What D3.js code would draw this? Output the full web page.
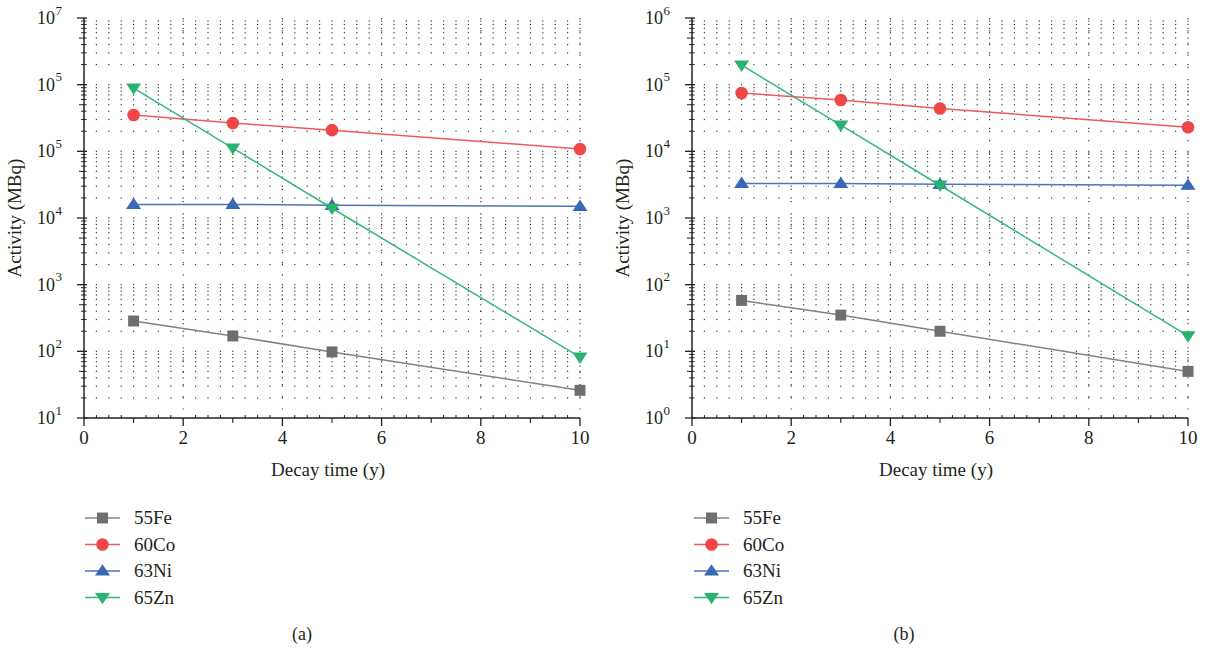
<!DOCTYPE html>
<html>
<head>
<meta charset="utf-8">
<script src="https://cdn.jsdelivr.net/npm/d3@7"></script>
<style>
  body { margin: 0; background: #fff; }
  svg text { fill: #231f20; }
</style>
</head>
<body>
<svg id="chart" width="1205" height="652" font-family="'Liberation Serif', 'Times New Roman', 'DejaVu Serif', serif"></svg>
<script>
const years = [1, 3, 5, 10];
const seriesNames = ["55Fe", "60Co", "63Ni", "65Zn"];
const xTicks = [0, 2, 4, 6, 8, 10];

// panel (a)
const aFe = [285, 170, 98, 26];
const aCo = [350000, 265000, 208000, 108000];
const aNi = [16000, 16000, 15500, 15000];
const aZn = [890000, 112000, 14000, 82];
const aExp = [7, 5, 5, 4, 3, 2, 1]; // labels as printed, top to bottom

// panel (b)
const bFe = [58, 35, 20, 5];
const bCo = [75000, 59000, 44000, 23000];
const bNi = [3300, 3300, 3200, 3100];
const bZn = [196000, 24700, 3100, 17];
const bExp = [6, 5, 4, 3, 2, 1, 0];

const colors = { "55Fe": "#6d6e71", "60Co": "#ef4747", "63Ni": "#3a68b4", "65Zn": "#2ab271" };
const lineColors = { "55Fe": "#808285", "60Co": "#f05a5a", "63Ni": "#4a76bd", "65Zn": "#35b97a" };
const shapes = { "55Fe": d3.symbolSquare, "60Co": d3.symbolCircle, "63Ni": "up", "65Zn": "down" };

const svg = d3.select("#chart");

function marker(g, name, x, y) {
  const s = shapes[name];
  if (s === "up" || s === "down") {
    const h = 11, w = 7.5, dir = s === "up" ? -1 : 1;
    g.append("path")
      .attr("d", `M${x},${y + dir * h * 0.62}L${x - w},${y - dir * h * 0.42}L${x + w},${y - dir * h * 0.42}Z`)
      .attr("fill", colors[name]);
  } else {
    g.append("path")
      .attr("transform", `translate(${x},${y})`)
      .attr("d", d3.symbol().type(s).size(s === d3.symbolSquare ? 120 : 125)())
      .attr("fill", colors[name]);
  }
}

function drawPanel(opt) {
  const x = d3.scaleLinear().domain([0, 10]).range([opt.x0, opt.x1]);
  const y = d3.scaleLog().domain([Math.pow(10, opt.lo), Math.pow(10, opt.hi)]).range([418, 18]);
  const g = svg.append("g");

  // dotted grid: dots at minor intersections
  const xMinor = d3.range(1, 41).map(i => i * 0.25);
  const yMinor = [];
  for (let e = opt.lo; e < opt.hi; e++) for (let k = 1; k <= 9; k++) if (!(k === 1 && e === opt.lo)) yMinor.push(k * Math.pow(10, e));
  const dots = g.append("g").attr("fill", "#3a3a3a");
  xMinor.forEach(xv => yMinor.forEach(yv => {
    dots.append("rect").attr("x", x(xv) - 0.6).attr("y", y(yv) - 0.6).attr("width", 1.2).attr("height", 1.2);
  }));
  g.append("g").selectAll("line").data([2, 4, 6, 8, 10]).join("line")
    .attr("x1", d => x(d)).attr("x2", d => x(d)).attr("y1", 18).attr("y2", 418)
    .attr("stroke", "#3a3a3a").attr("stroke-width", 1.2).attr("stroke-dasharray", "1.2,11");

  // series
  opt.series.forEach((vals, i) => {
    const name = seriesNames[i];
    g.append("path")
      .datum(vals)
      .attr("fill", "none")
      .attr("stroke", lineColors[name])
      .attr("stroke-width", 1.5)
      .attr("d", d3.line().x((d, j) => x(years[j])).y(d => y(d)));
    vals.forEach((v, j) => marker(g, name, x(years[j]), y(v)));
  });

  // axes
  const ax = g.append("g").attr("stroke", "#231f20");
  ax.append("line").attr("x1", opt.x0).attr("x2", opt.x0).attr("y1", 18).attr("y2", 418).attr("stroke-width", 1.5);
  ax.append("line").attr("x1", opt.x0).attr("x2", opt.x1).attr("y1", 418).attr("y2", 418).attr("stroke-width", 1.5);
  for (let e = opt.lo; e <= opt.hi; e++) {
    ax.append("line").attr("x1", opt.x0 - 7).attr("x2", opt.x0 + 3).attr("y1", y(Math.pow(10, e))).attr("y2", y(Math.pow(10, e))).attr("stroke-width", 1.3);
    if (e < opt.hi) for (let k = 2; k <= 9; k++) {
      const yy = y(k * Math.pow(10, e));
      const long = k === 5;
      ax.append("line").attr("x1", opt.x0 - (long ? 5 : 3)).attr("x2", opt.x0 + 2.5).attr("y1", yy).attr("y2", yy).attr("stroke-width", 1);
    }
  }
  d3.range(0, 41).forEach(i => {
    const v = i * 0.25, xx = x(v);
    if (v % 2 === 0) ax.append("line").attr("x1", xx).attr("x2", xx).attr("y1", 418).attr("y2", 426).attr("stroke-width", 1.3);
    else if (v % 1 === 0) ax.append("line").attr("x1", xx).attr("x2", xx).attr("y1", 418).attr("y2", 423).attr("stroke-width", 1.1);
    else ax.append("line").attr("x1", xx).attr("x2", xx).attr("y1", 415).attr("y2", 418).attr("stroke-width", 1);
  });

  // tick labels
  g.selectAll(".xl").data(xTicks).join("text")
    .attr("x", d => x(d)).attr("y", 444).attr("text-anchor", "middle")
    .attr("font-size", 19).text(d => d);
  opt.exps.forEach((ex, i) => {
    const e = opt.hi - i;
    g.append("text").attr("x", opt.x0 - 29).attr("y", y(Math.pow(10, e)) + 6)
      .attr("text-anchor", "end").attr("font-size", 18).text("10");
    g.append("text").attr("x", opt.x0 - 28.5).attr("y", y(Math.pow(10, e)) - 3.5)
      .attr("font-size", 13).text(ex);
  });

  // axis titles
  g.append("text").attr("transform", `translate(${opt.x0 - 63},${218}) rotate(-90)`)
    .attr("text-anchor", "middle").attr("font-size", 19).text("Activity (MBq)");
  g.append("text").attr("x", (opt.x0 + opt.x1) / 2 - 4).attr("y", 476)
    .attr("text-anchor", "middle").attr("font-size", 19).text("Decay time (y)");

  // legend
  seriesNames.forEach((name, i) => {
    const ly = 518 + i * 26.5;
    g.append("line").attr("x1", opt.lx).attr("x2", opt.lx + 35).attr("y1", ly).attr("y2", ly)
      .attr("stroke", lineColors[name]).attr("stroke-width", 1.5);
    marker(g, name, opt.lx + 17.5, ly);
    g.append("text").attr("x", opt.lx + 49).attr("y", ly + 6).attr("font-size", 19).text(name);
  });

  g.append("text").attr("x", opt.capX).attr("y", 640).attr("text-anchor", "middle")
    .attr("font-size", 18).text(opt.caption);
}

drawPanel({ x0: 84, x1: 580, lo: 1, hi: 7, exps: aExp, series: [aFe, aCo, aNi, aZn], lx: 85, capX: 302, caption: "(a)" });
drawPanel({ x0: 692, x1: 1188, lo: 0, hi: 6, exps: bExp, series: [bFe, bCo, bNi, bZn], lx: 694, capX: 904, caption: "(b)" });
</script>
</body>
</html>
